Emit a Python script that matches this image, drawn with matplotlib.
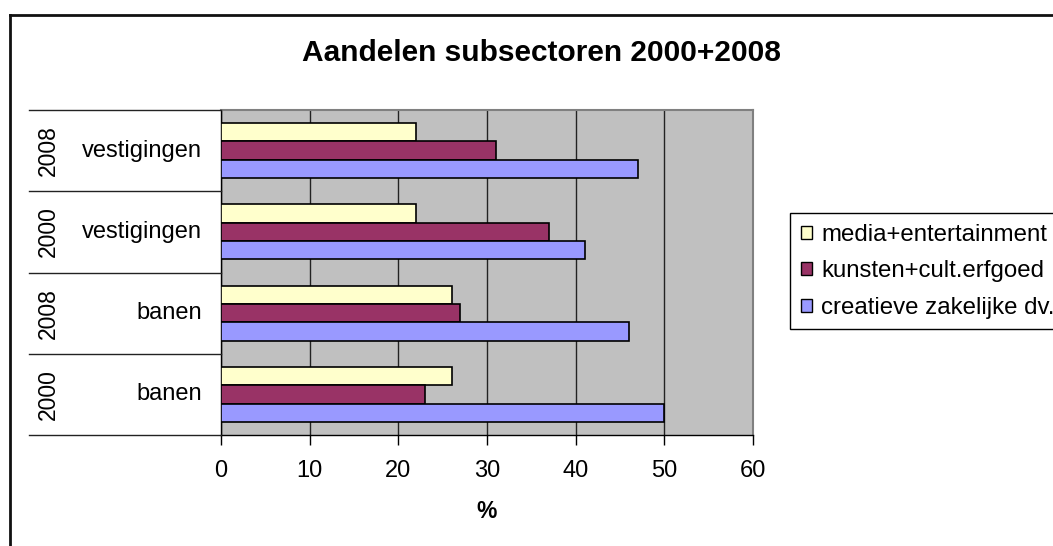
import matplotlib
matplotlib.use("Agg")
import matplotlib.pyplot as plt
from matplotlib.lines import Line2D
from matplotlib.patches import Patch

plt.rcParams["font.family"] = ["Liberation Sans", "DejaVu Sans"]

# groups bottom -> top
years = ["2000", "2008", "2000", "2008"]
measures = ["banen", "banen", "vestigingen", "vestigingen"]

series = ["media+entertainment", "kunsten+cult.erfgoed", "creatieve zakelijke dv."]
media = [26, 26, 22, 22]
kunsten = [23, 27, 37, 31]
creatief = [50, 46, 41, 47]
colors = ["#FFFFCC", "#993366", "#9999FF"]

xticks = [0, 10, 20, 30, 40, 50, 60]

W, H = 1053, 546
fig = plt.figure(figsize=(W / 100, H / 100), dpi=100)


def fx(px):
    return px / W


def fy(py):
    return 1 - py / H


# plot area in pixel coords of the reference
L, R, T, B = 221, 753, 110, 435
ax = fig.add_axes([fx(L), fy(B), fx(R) - fx(L), fy(T) - fy(B)])
ax.set_facecolor("#C0C0C0")

bh = 0.225
ypos = list(range(len(years)))
vals = [media, kunsten, creatief]
offs = [bh, 0, -bh]
for v, c, o, name in zip(vals, colors, offs, series):
    ax.barh([y + o for y in ypos], v, height=bh, color=c,
            edgecolor="black", linewidth=1.2, zorder=3, label=name)

ax.set_xlim(0, 60)
ax.set_ylim(-0.5, len(years) - 0.5)
ax.set_xticks(xticks)
ax.set_xticklabels([str(t) for t in xticks], fontsize=17)
ax.set_yticks([])
ax.xaxis.grid(True, color="#222222", linewidth=1.0, zorder=1)
ax.set_axisbelow(True)
ax.tick_params(axis="x", direction="out", length=7, width=1, pad=11)

for s in ["top", "right"]:
    ax.spines[s].set_color("#808080")
    ax.spines[s].set_linewidth(1.5)
for s in ["left", "bottom"]:
    ax.spines[s].set_color("black")
    ax.spines[s].set_linewidth(1.0)

ax.set_xlabel("%", fontsize=16.5, fontweight="bold", labelpad=13)

# category table on the left
bounds = [T + i * (B - T) / len(years) for i in range(len(years) + 1)]
for yb in bounds:
    fig.add_artist(Line2D([fx(29), fx(L)], [fy(yb), fy(yb)],
                          color="#222222", linewidth=1.0))
for i, (yr, ms) in enumerate(zip(years, measures)):
    top = bounds[len(years) - 1 - i]
    bot = bounds[len(years) - i]
    yc = fy((top + bot) / 2)
    fig.text(fx(48), yc, yr, rotation=90, ha="center", va="center", fontsize=16.5)
    fig.text(fx(202), yc, ms, ha="right", va="center", fontsize=17)

fig.text(fx(541), fy(53), "Aandelen subsectoren 2000+2008", ha="center",
         va="center", fontsize=21.5, fontweight="bold")

# legend (its right side runs off the picture, as in the original)
handles = [Patch(facecolor=c, edgecolor="black", linewidth=1) for c in colors]
leg = fig.legend(handles, series, loc="upper left",
                 bbox_to_anchor=(fx(790), fy(213)), fontsize=17.3,
                 frameon=True, fancybox=False, framealpha=1,
                 handlelength=0.45, handleheight=0.45, handletextpad=0.4,
                 labelspacing=0.6, borderpad=0.45, borderaxespad=0)
leg.get_frame().set_edgecolor("black")
leg.get_frame().set_linewidth(1)

# outer chart frame (right and bottom cut off)
fig.add_artist(Line2D([fx(10), fx(10)], [fy(15), 0], color="#111111", linewidth=2))
fig.add_artist(Line2D([fx(10), 1], [fy(15), fy(15)], color="#111111", linewidth=2))

fig.savefig("out.png", dpi=100)
